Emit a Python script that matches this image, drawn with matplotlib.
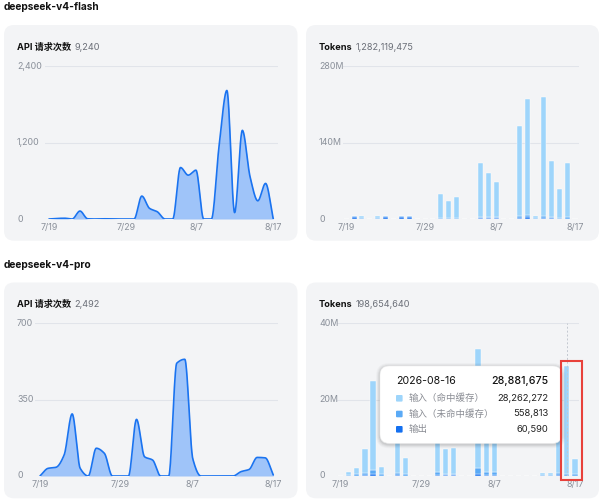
import numpy as np
import pandas as pd
import matplotlib
matplotlib.use("Agg")
import matplotlib.pyplot as plt
import matplotlib.patches as mpatches
import matplotlib.transforms as mtransforms

plt.rcParams['font.family'] = ['Inter', 'Noto Sans CJK SC', 'DejaVu Sans']

# --- data (daily, 7/19 .. 8/17) ---
days = [f"{d.month}/{d.day}" for d in pd.date_range('2026-07-19', '2026-08-17')]
tick_idx = [0, 10, 19, 29]

flash_requests = [0, 8, 12, 0, 125, 3, 0, 3, 3, 0, 0, 0, 360, 167, 114, 0, 0,
                  809, 689, 767, 0, 0, 1160, 2020, 100, 1393, 662, 286, 559, 0]
pro_requests = [0, 35, 40, 96, 284, 35, 0, 127, 104, 0, 0, 0, 259, 88, 73, 0, 0,
                516, 534, 78, 0, 0, 0, 0, 0, 20, 30, 85, 83, 5]

# tokens in millions: cache hit / cache miss / output
flash_hit = [0, 0.5, 4.6, 0, 4.6, 0.5, 0, 0.3, 0.3, 0, 0, 0, 43.2, 31.8, 38.3, 0, 0,
             97.5, 80.8, 63.5, 0, 0, 165, 212, 4.6, 218, 103.5, 54, 99, 0]
flash_miss = [0, 2.0, 0.7, 0, 0.7, 2.5, 0, 1.5, 1.5, 0, 0, 0, 1.3, 0.9, 0.9, 0, 0,
              3.0, 2.5, 3.2, 0, 0, 3.2, 5.0, 0.7, 3.2, 2.3, 1.1, 2.2, 0]
flash_out = [0, 3.3, 0.3, 0, 0.3, 2.8, 0, 4.0, 4.0, 0, 0, 0, 0.5, 0.3, 0.3, 0, 0,
             1.5, 1.2, 1.3, 0, 0, 1.8, 3.0, 0.3, 1.8, 1.2, 0.4, 0.8, 0]

pro_hit = [0, 0.8, 1.6, 6.3, 23.3, 1.9, 0, 11.2, 4.1, 0, 0, 0, 14.9, 6.4, 6.6, 0, 0,
           31.3, 16.9, 15.0, 0, 0, 0, 0, 0, 0.7, 0.65, 11.1, 28.262272, 3.9]
pro_miss = [0, 0.25, 0.3, 0.5, 1.1, 0.35, 0, 0.6, 0.4, 0, 0, 0, 0.8, 0.45, 0.45, 0, 0,
            1.4, 0.8, 0.7, 0, 0, 0, 0, 0, 0.15, 0.15, 0.6, 0.558813, 0.4]
pro_out = [0, 0.05, 0.1, 0.2, 0.4, 0.1, 0, 0.2, 0.1, 0, 0, 0, 0.3, 0.15, 0.15, 0, 0,
           0.6, 0.3, 0.3, 0, 0, 0, 0, 0, 0.05, 0.05, 0.3, 0.06059, 0.1]

W, H = 603, 500
fig = plt.figure(figsize=(W / 100, H / 100), dpi=100)
fig.patch.set_facecolor('white')

CARD = '#f3f4f6'
GRID = '#e1e4ea'
TICK = '#8a909a'
LINE = '#1a73f0'
C_HIT, C_MISS, C_OUT = '#9ed5fb', '#5aaaf6', '#1470f0'


def card(x0, y0, x1, y1):
    p = mpatches.FancyBboxPatch((x0 / 100, (H - y1) / 100), (x1 - x0) / 100, (y1 - y0) / 100,
                                boxstyle='round,pad=0,rounding_size=0.1',
                                transform=fig.dpi_scale_trans, facecolor=CARD,
                                edgecolor='none', zorder=-5)
    fig.add_artist(p)


def make_ax(x0, y0, x1, y1, xlim, ylim):
    ax = fig.add_axes([x0 / W, 1 - y1 / H, (x1 - x0) / W, (y1 - y0) / H])
    ax.patch.set_visible(False)
    for s in ax.spines.values():
        s.set_visible(False)
    ax.set_xlim(*xlim)
    ax.set_ylim(*ylim)
    ax.set_yticks([])
    ax.set_xticks(tick_idx)
    ax.set_xticklabels([days[i] for i in tick_idx], fontsize=6.4, color=TICK)
    ax.tick_params(axis='x', length=0, pad=3.2)
    return ax


def yticks(ax, vals, labels, xpx):
    tr = mtransforms.blended_transform_factory(fig.transFigure, ax.transData)
    for v, lab in zip(vals, labels):
        ax.axhline(v, color=GRID, lw=0.8, zorder=0)
        fig.text(xpx / W, v, lab, transform=tr, fontsize=6.4, color=TICK,
                 ha='left', va='center')


def header(ax, xpx, ypx, bold, num):
    t = fig.text(xpx / W, 1 - ypx / H, bold, fontsize=6.6, fontweight='bold',
                 color='#111111', ha='left', va='center')
    ax.annotate(num, xy=(1, 0.5), xycoords=t, xytext=(2.5, 0), textcoords='offset points',
                fontsize=6.6, color='#6b6f78', ha='left', va='center', annotation_clip=False)


def pchip(y, n=24):
    y = np.asarray(y, float)
    d = np.diff(y)
    m = np.zeros_like(y)
    m[0], m[-1] = d[0], d[-1]
    for i in range(1, len(y) - 1):
        if d[i - 1] * d[i] > 0:
            m[i] = 2.0 / (1.0 / d[i - 1] + 1.0 / d[i])
    xs, ys = [], []
    t = np.linspace(0, 1, n, endpoint=False)
    for i in range(len(y) - 1):
        h00 = 2 * t**3 - 3 * t**2 + 1
        h10 = t**3 - 2 * t**2 + t
        h01 = -2 * t**3 + 3 * t**2
        h11 = t**3 - t**2
        xs.append(i + t)
        ys.append(h00 * y[i] + h10 * m[i] + h01 * y[i + 1] + h11 * m[i + 1])
    xs.append([len(y) - 1])
    ys.append([y[-1]])
    return np.concatenate(xs), np.concatenate(ys)


def area(ax, vals):
    xs, ys = pchip(vals)
    ax.fill_between(xs, 0, ys, color='#1677ff', alpha=0.38, lw=0, zorder=1)
    ax.plot(xs, ys, color=LINE, lw=1.2, zorder=2, solid_capstyle='round')


def bars(ax, hit, miss, out):
    x = np.arange(len(days))
    hit, miss, out = np.array(hit), np.array(miss), np.array(out)
    kw = dict(width=0.64, edgecolor='white', linewidth=0.3, zorder=2)
    ax.bar(x, out, color=C_OUT, **kw)
    ax.bar(x, miss, bottom=out, color=C_MISS, **kw)
    ax.bar(x, hit, bottom=out + miss, color=C_HIT, **kw)


# section titles
fig.text(4 / W, 1 - 7.5 / H, 'deepseek-v4-flash', fontsize=7.3, fontweight='bold',
         color='#111111', ha='left', va='center')
fig.text(4 / W, 1 - 265 / H, 'deepseek-v4-pro', fontsize=7.3, fontweight='bold',
         color='#111111', ha='left', va='center')

card(4, 25, 297.5, 240.7)
card(306, 25, 599, 240.7)
card(4, 282.5, 297.5, 498.3)
card(306, 282.5, 599, 498.3)

# flash requests
ax1 = make_ax(45, 66.3, 277.7, 219, (-0.52, 29.57), (0, 2400))
yticks(ax1, [0, 1200, 2400], ['0', '1,200', '2,400'], 17)
area(ax1, flash_requests)
header(ax1, 17, 47.7, 'API 请求次数', '9,240')

# flash tokens
ax2 = make_ax(342.7, 66.3, 579, 219, (-0.44, 29.51), (0, 280))
yticks(ax2, [0, 140, 280], ['0', '140M', '280M'], 319)
bars(ax2, flash_hit, flash_miss, flash_out)
header(ax2, 319, 47.7, 'Tokens', '1,282,119,475')

# pro requests
ax3 = make_ax(35, 323, 277.7, 476, (-0.62, 29.55), (0, 700))
yticks(ax3, [0, 350, 700], ['0', '350', '700'], 17)
area(ax3, pro_requests)
header(ax3, 17, 304.3, 'API 请求次数', '2,492')

# pro tokens
ax4 = make_ax(336.7, 323, 579, 476, (-0.495, 29.5), (0, 40))
yticks(ax4, [0, 20, 40], ['0', '20M', '40M'], 319)
bars(ax4, pro_hit, pro_miss, pro_out)
ax4.axvline(28, color='#c3c8d0', lw=0.7, ls=(0, (2, 2)), zorder=3)
header(ax4, 319, 304.3, 'Tokens', '198,654,640')

# tooltip for 2026-08-16
tx0, ty0, tx1, ty1 = 380, 366, 561.7, 443.3
for k, a in [(4, 0.025), (3, 0.035), (2, 0.05), (1, 0.06)]:
    sh = mpatches.FancyBboxPatch(((tx0 - k) / 100, (H - ty1 - k - 1) / 100),
                                 (tx1 - tx0 + 2 * k) / 100, (ty1 - ty0 + 2 * k) / 100,
                                 boxstyle=f'round,pad=0,rounding_size={0.09 + k / 100}',
                                 transform=fig.dpi_scale_trans, facecolor='black',
                                 alpha=a, edgecolor='none', zorder=8)
    fig.add_artist(sh)
tip = mpatches.FancyBboxPatch((tx0 / 100, (H - ty1) / 100), (tx1 - tx0) / 100, (ty1 - ty0) / 100,
                              boxstyle='round,pad=0,rounding_size=0.09',
                              transform=fig.dpi_scale_trans, facecolor='white',
                              edgecolor='#eeeeee', linewidth=0.4, zorder=9)
fig.add_artist(tip)

tip_date = '2026-08-16'
tip_total = '28,881,675'
tip_names = ['输入（命中缓存）', '输入（未命中缓存）', '输出']
tip_vals = ['28,262,272', '558,813', '60,590']
tip_cols = [C_HIT, C_MISS, C_OUT]

fig.text(396 / W, 1 - 381 / H, tip_date, fontsize=7.6, color='#111111',
         ha='left', va='center', zorder=10)
fig.text(548.3 / W, 1 - 381 / H, tip_total, fontsize=7.6, color='#111111',
         fontweight='medium', ha='right', va='center', zorder=10)
for i, (nm, v, c) in enumerate(zip(tip_names, tip_vals, tip_cols)):
    yy = [398.3, 414, 429.3][i]
    sq = mpatches.FancyBboxPatch((396 / 100, (H - yy - 3.3) / 100), 6.6 / 100, 6.6 / 100,
                                 boxstyle='round,pad=0,rounding_size=0.01',
                                 transform=fig.dpi_scale_trans, facecolor=c,
                                 edgecolor='none', zorder=10)
    fig.add_artist(sq)
    fig.text(408.3 / W, 1 - yy / H, nm, fontsize=6.8, color='#8a8d94',
             ha='left', va='center', zorder=10)
    fig.text(548.3 / W, 1 - yy / H, v, fontsize=6.8, color='#222222',
             ha='right', va='center', zorder=10)

# red highlight box
fig.add_artist(mpatches.Rectangle((561 / 100, (H - 480) / 100), 21 / 100, 119 / 100,
                                  transform=fig.dpi_scale_trans, fill=False,
                                  edgecolor='#e8413b', linewidth=1.5, zorder=11))

fig.savefig('out.png', dpi=100)
